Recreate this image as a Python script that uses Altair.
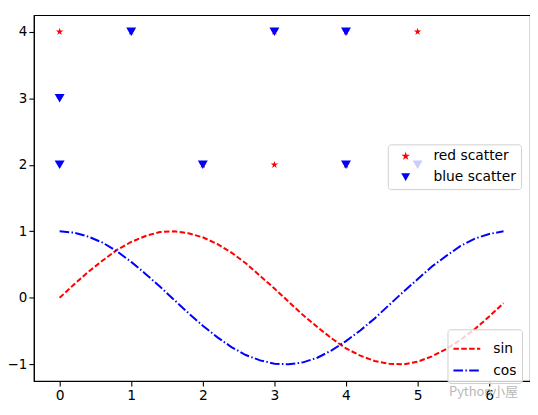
import altair as alt
import pandas as pd

# scatter points
red_x = [0, 1, 3, 4, 5, 2, 3, 4]
red_y = [4, 4, 4, 4, 4, 2, 2, 2]
blue_x = [1, 3, 4, 0, 0, 2, 4, 5]
blue_y = [4, 4, 4, 3, 2, 2, 2, 2]

# line series
line_x = [0.0, 0.2, 0.4, 0.6, 0.8, 1.0, 1.2, 1.4, 1.6, 1.8, 2.0, 2.2, 2.4, 2.6, 2.8, 3.0,
          3.2, 3.4, 3.6, 3.8, 4.0, 4.2, 4.4, 4.6, 4.8, 5.0, 5.2, 5.4, 5.6, 5.8, 6.0, 6.2]
sin_y = [0.00, 0.20, 0.39, 0.56, 0.72, 0.84, 0.93, 0.99, 1.00, 0.97, 0.91, 0.81, 0.68, 0.52, 0.33, 0.14,
         -0.06, -0.26, -0.44, -0.61, -0.76, -0.87, -0.95, -0.99, -1.00, -0.96, -0.88, -0.77, -0.63, -0.47, -0.28, -0.08]
cos_y = [1.00, 0.98, 0.92, 0.83, 0.70, 0.54, 0.36, 0.17, -0.03, -0.23, -0.42, -0.59, -0.74, -0.86, -0.94, -0.99,
         -1.00, -0.97, -0.90, -0.79, -0.65, -0.49, -0.31, -0.11, 0.09, 0.28, 0.47, 0.63, 0.78, 0.89, 0.96, 1.00]

scatter_names = ["red scatter", "blue scatter"]
line_names = ["sin", "cos"]
x_ticks = [0, 1, 2, 3, 4, 5, 6]
y_ticks = [-1, 0, 1, 2, 3, 4]
watermark = "Python小屋"

pts = pd.DataFrame({
    "x": red_x + blue_x,
    "y": red_y + blue_y,
    "series": [scatter_names[0]] * len(red_x) + [scatter_names[1]] * len(blue_x),
})
lines = pd.DataFrame({
    "x": line_x + line_x,
    "y": sin_y + cos_y,
    "series": [line_names[0]] * len(line_x) + [line_names[1]] * len(line_x),
})

STAR = ("M0,-1 L0.225,-0.309 L0.951,-0.309 L0.363,0.118 L0.588,0.809 L0,0.382 "
        "L-0.588,0.809 L-0.363,0.118 L-0.951,-0.309 L-0.225,-0.309 Z")

xs = alt.Scale(domain=[-0.36, 6.57], nice=False, zero=False)
ys = alt.Scale(domain=[-1.25, 4.25], nice=False, zero=False)
xax = alt.Axis(values=x_ticks, title=None, format="d")
yax = alt.Axis(values=y_ticks, title=None, format="d", labelPadding=2, labelFontSize=13.5)

leg1 = alt.Legend(title=None, orient="none", legendX=356, legendY=130, symbolSize=80,
                  labelOffset=21, symbolOffset=6, rowPadding=6)
scatter = alt.Chart(pts).mark_point(filled=True, opacity=1).encode(
    x=alt.X("x:Q", scale=xs, axis=xax),
    y=alt.Y("y:Q", scale=ys, axis=yax),
    color=alt.Color("series:N", scale=alt.Scale(domain=scatter_names, range=["#ff0000", "#0000ff"]), legend=leg1),
    shape=alt.Shape("series:N", scale=alt.Scale(domain=scatter_names, range=[STAR, "triangle-down"]), legend=leg1),
    size=alt.condition(alt.datum.series == scatter_names[0], alt.value(60), alt.value(100)),
)

leg2 = alt.Legend(title=None, orient="none", legendX=416, legendY=316, symbolSize=729,
                  symbolStrokeWidth=2, labelOffset=12, symbolOffset=0, rowPadding=-7)
line = alt.Chart(lines).mark_line(strokeWidth=2).encode(
    x=alt.X("x:Q", scale=xs, axis=xax),
    y=alt.Y("y:Q", scale=ys, axis=yax),
    color=alt.Color("series:N", scale=alt.Scale(domain=line_names, range=["#ff0000", "#0000ff"]), legend=leg2),
    strokeDash=alt.StrokeDash("series:N", scale=alt.Scale(domain=line_names, range=[[5.5, 2.4], [9.6, 2.4, 1.5, 2.4]]), legend=leg2),
)

chart = alt.layer(scatter, line).resolve_scale(
    color="independent", shape="independent", strokeDash="independent"
).properties(
    width=499, height=368,
    autosize=alt.AutoSizeParams(type="none"),
    padding={"left": 26, "top": 6, "right": 0, "bottom": 20},
    title=alt.TitleParams(watermark, orient="bottom", anchor="end", offset=-17, dx=-12,
                          fontSize=13, fontWeight="normal", color="#b8b8b8", font="Noto Sans CJK SC"),
).configure_axis(
    domainColor="black", domainWidth=1.1, tickColor="black", tickWidth=1.1, tickSize=5,
    labelFont="DejaVu Sans", labelFontSize=13.9, labelColor="black", labelPadding=3, grid=False,
).configure_view(
    stroke="black", strokeWidth=1.1,
).configure_legend(
    strokeColor="#d0d0d0", fillColor="rgba(255,255,255,0.8)", cornerRadius=3, padding=5,
    labelFont="DejaVu Sans", labelFontSize=13.9, labelColor="black",
)

chart.save("out.html", embed_options={"renderer": "svg", "actions": False})
